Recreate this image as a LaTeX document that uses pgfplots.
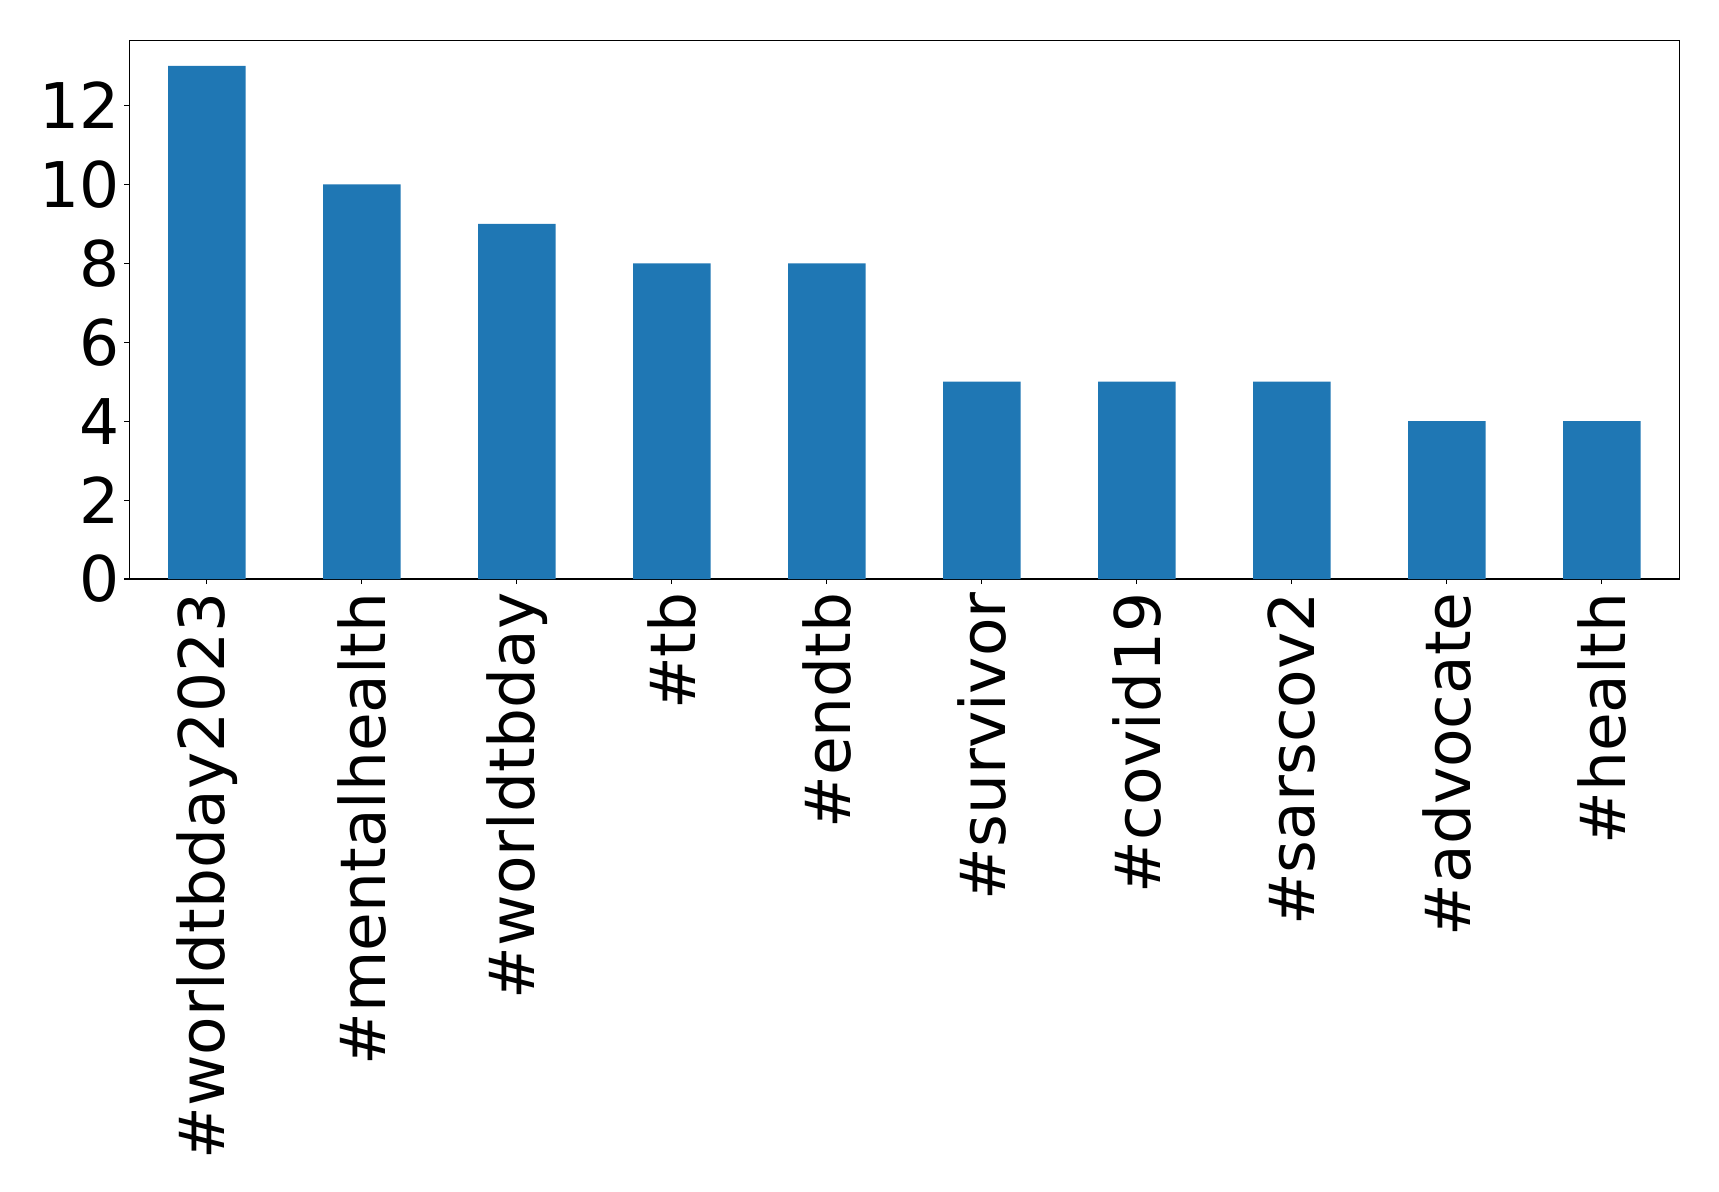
\documentclass[border=0pt]{standalone}
\usepackage{pgfplots}
\pgfplotsset{compat=1.18}
\usepackage{fontspec}
\setmainfont{DejaVu Sans}
\definecolor{mplblue}{HTML}{1F77B4}
\begin{document}
\begin{tikzpicture}
\begin{axis}[
  name=ax,
  scale only axis,
  width=775pt, height=269.35pt,
  xmin=-0.5, xmax=9.5,
  ymin=0, ymax=13.65,
  xtick={0,...,9},
  xticklabels={\#worldtbday2023,\#mentalhealth,\#worldtbday,\#tb,\#endtb,\#survivor,\#covid19,\#sarscov2,\#advocate,\#health},
  ytick={0,2,4,6,8,10,12},
  tick pos=left,
  tick align=outside,
  major tick length=2.5pt,
  axis line style={line width=0.55pt},
  every tick/.style={line width=0.55pt, black},
  /pgf/number format/assume math mode=true,
  ticklabel style={font=\fontsize{31.5}{36}\selectfont},
  x tick label style={rotate=90, anchor=east, inner sep=0pt, xshift=-4pt},
  y tick label style={inner sep=0pt, xshift=-2.3pt},
]
\addplot[ybar, bar width=0.5, fill=mplblue, draw=none, bar shift=0pt]
  coordinates {(0,13) (1,10) (2,9) (3,8) (4,8) (5,5) (6,5) (7,5) (8,4) (9,4)};
\end{axis}
\pgfresetboundingbox
\path[use as bounding box] ([shift={(-64.65pt,-306pt)}]ax.south west) rectangle ([shift={(19.85pt,20.15pt)}]ax.north east);
\end{tikzpicture}
\end{document}
